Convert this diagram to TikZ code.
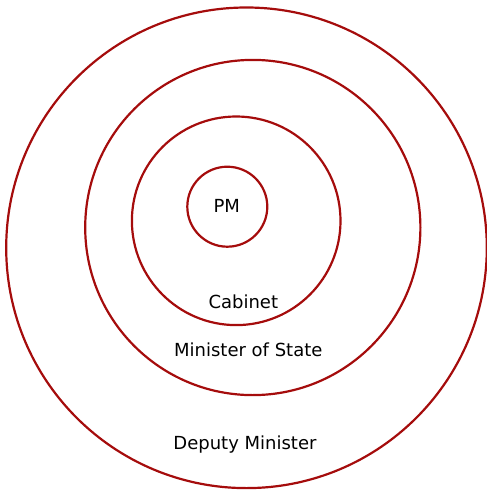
\documentclass[tikz,border=0pt]{standalone}
\usepackage{fontspec}
\setmainfont{DejaVu Sans}
\definecolor{ringred}{RGB}{165,12,12}
\begin{document}
\begin{tikzpicture}[x=1pt,y=-1pt,line cap=round,line join=round]
  \useasboundingbox (0,0) rectangle (487,491);
  \coordinate (O) at (246.5,247.8);
  \coordinate (S) at (252.8,227.5);
  \coordinate (C) at (236.2,220.8);
  \coordinate (P) at (227.3,206.7);
  \draw[ringred,line width=2.2pt] (O) circle[radius=240.3pt];
  \draw[ringred,line width=2.2pt] (S) circle[radius=167.6pt];
  \draw[ringred,line width=2.2pt] (C) circle[radius=104.3pt];
  \draw[ringred,line width=2.2pt] (P) circle[radius=40pt];
  \node[font=\fontsize{18}{21}\selectfont] (pm) at (226.7,206) {PM};
  \node[font=\fontsize{18}{21}\selectfont] (cab) at (243.3,301.5) {Cabinet};
  \node[font=\fontsize{18}{21}\selectfont] (mos) at (248.3,350) {Minister of State};
  \node[font=\fontsize{18}{21}\selectfont] (dm) at (245,445) {Deputy Minister};
\end{tikzpicture}
\end{document}
